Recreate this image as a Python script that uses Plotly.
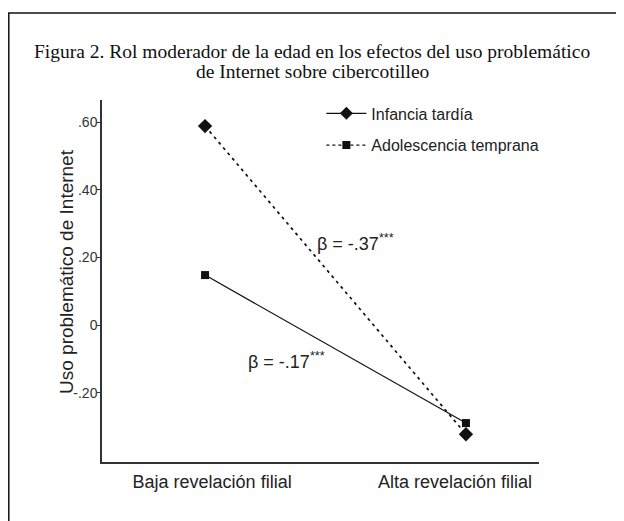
import plotly.graph_objects as go

# ---- data ----
categories = ["Baja revelación filial", "Alta revelación filial"]
cat_pos = [0, 1]
dashed_diamond_values = [0.588, -0.322]   # dashed line with diamonds
solid_square_values = [0.148, -0.289]     # solid line with squares
legend_names = ["Infancia tardía", "Adolescencia temprana"]
y_tickvals = [-0.20, 0, 0.20, 0.40, 0.60]
y_ticktext = ["-.20", "0", ".20", ".40", ".60"]
beta_labels = ["β = -.37<sup>***</sup>", "β = -.17<sup>***</sup>"]
title_lines = ["Figura 2. Rol moderador de la edad en los efectos del uso problemático",
               "de Internet sobre cibercotilleo"]
y_title = "Uso problemático de Internet"

FONT = "Liberation Sans, Arial, sans-serif"
SERIF = "Liberation Serif, serif"
INK = "#111111"

# plot area in figure pixels
L, R, T, B = 94, 531, 92, 454
W, H = R - L, B - T


def px(X):
    return (X - L) / W


def py(Y):
    return (B - Y) / H


fig = go.Figure()

# data traces (drawn as in the picture)
fig.add_trace(go.Scatter(
    x=cat_pos, y=dashed_diamond_values, mode="lines+markers",
    line=dict(color=INK, width=1.7, dash="3px,4px"),
    marker=dict(symbol="diamond", size=11, color=INK),
    showlegend=False, hoverinfo="skip"))
fig.add_trace(go.Scatter(
    x=cat_pos, y=solid_square_values, mode="lines+markers",
    line=dict(color=INK, width=1.2),
    marker=dict(symbol="square", size=8, color=INK),
    showlegend=False, hoverinfo="skip"))

# legend entries (as printed in the figure's key)
fig.add_trace(go.Scatter(
    x=[None], y=[None], mode="lines+markers", name=legend_names[0],
    line=dict(color=INK, width=1.2),
    marker=dict(symbol="diamond", size=10, color=INK),
    legendgroup="a"))
fig.add_trace(go.Scatter(
    x=[None], y=[None], mode="lines+markers", name=legend_names[1],
    line=dict(color=INK, width=1.2, dash="3px,3px"),
    marker=dict(symbol="square", size=8, color=INK),
    legendgroup="b"))

# beta annotations
beta_font = dict(family=FONT, size=18, color="#222")
fig.add_annotation(x=0.42, y=0.245, text=beta_labels[0], showarrow=False,
                   xanchor="left", yanchor="middle", font=beta_font)
fig.add_annotation(x=0.158, y=-0.104, text=beta_labels[1], showarrow=False,
                   xanchor="left", yanchor="middle", font=beta_font)

# title (two lines)
title_font = dict(family=SERIF, size=19.5, color="#111")
fig.add_annotation(xref="paper", yref="paper", x=px(304), y=py(44),
                   text=title_lines[0], showarrow=False,
                   xanchor="center", yanchor="middle", font=title_font)
fig.add_annotation(xref="paper", yref="paper", x=px(304), y=py(64),
                   text=title_lines[1], showarrow=False,
                   xanchor="center", yanchor="middle", font=title_font)

# y-axis title
fig.add_annotation(xref="paper", yref="paper", x=px(58), y=py(264),
                   text=y_title, showarrow=False, textangle=-90,
                   xanchor="center", yanchor="middle",
                   font=dict(family=FONT, size=19, color="#222"))

# outer frame
fig.add_shape(type="rect", xref="paper", yref="paper",
              x0=px(0.8), x1=px(610), y0=py(540), y1=py(5),
              line=dict(color="#111", width=1.5), fillcolor="rgba(0,0,0,0)",
              layer="below")

fig.update_layout(
    width=624, height=521,
    margin=dict(l=L, r=624 - R, t=T, b=521 - B, autoexpand=False),
    paper_bgcolor="white", plot_bgcolor="white",
    legend=dict(
        x=0.502, y=1.01, xanchor="left", yanchor="top",
        bgcolor="rgba(0,0,0,0)", borderwidth=0,
        font=dict(family=FONT, size=16, color="#222"),
        tracegroupgap=8, traceorder="grouped", itemwidth=40),
    xaxis=dict(
        range=[-0.395, 1.28], showgrid=False, zeroline=False,
        tickvals=[0.027, 0.958], ticktext=categories, ticks="",
        showline=True, linecolor="#333", linewidth=1.5,
        tickfont=dict(family=FONT, size=18, color="#222"),
        ticklabelstandoff=3, automargin=False),
    yaxis=dict(
        range=[-0.404, 0.665], showgrid=False, zeroline=False,
        tickvals=y_tickvals, ticktext=y_ticktext,
        ticks="outside", ticklen=3, tickcolor="#333", tickwidth=1,
        showline=True, linecolor="#333", linewidth=1.5,
        tickfont=dict(family=FONT, size=14, color="#333"),
        ticklabelstandoff=-3, automargin=False),
)

fig.write_html("out.html")
